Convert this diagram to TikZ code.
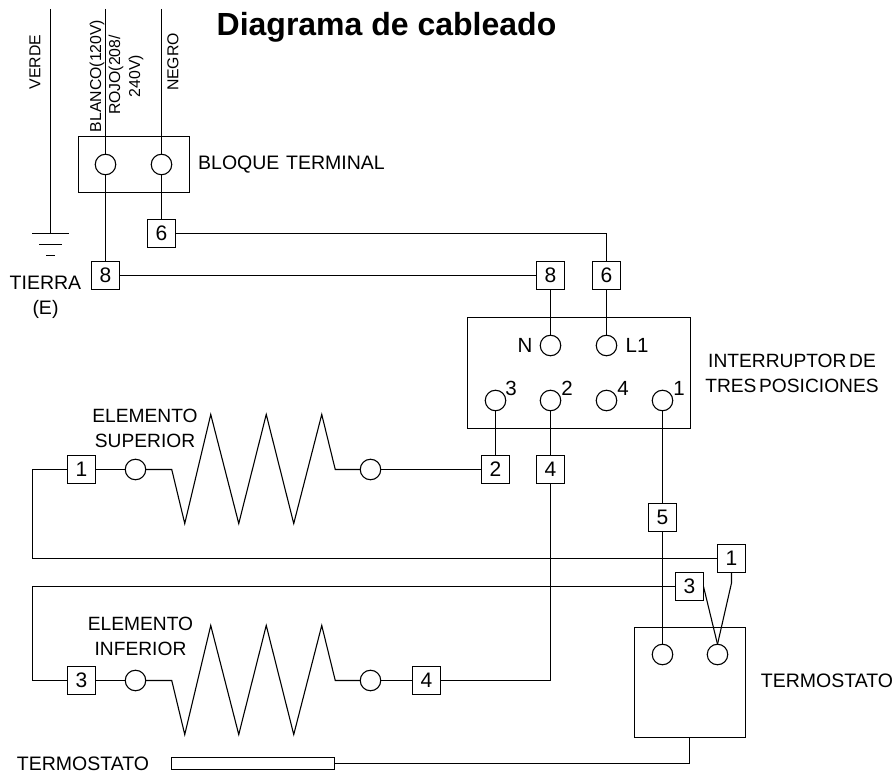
\documentclass[tikz,border=0pt]{standalone}
\usepackage{fontspec}
\setmainfont[WordSpace=0.5]{Liberation Sans}
\newfontfamily\titlefont[WordSpace=1]{Liberation Sans}
\tikzset{
  wire/.style={line width=1.1pt,black,line join=miter},
  term/.style={circle,draw,line width=1.1pt,fill=white,minimum size=20.5pt,inner sep=0pt,outer sep=0pt},
  tag/.style={rectangle,draw,line width=1.1pt,fill=white,minimum size=28pt,inner sep=0pt,outer sep=0pt,font=\fontsize{21}{21}\selectfont},
  panel/.style={rectangle,draw,line width=1.1pt,inner sep=0pt,outer sep=0pt},
  lab/.style={inner sep=0pt,font=\fontsize{19.5}{25.5}\selectfont,align=center},
  labs/.style={inner sep=0pt,font=\fontsize{19.2}{25.5}\selectfont,align=center},
  vlab/.style={inner sep=0pt,rotate=90,font=\fontsize{15.8}{15.8}\selectfont},
  pin/.style={inner sep=0pt,font=\fontsize{20.5}{20.5}\selectfont},
}
\begin{document}
\begin{tikzpicture}[x=1pt,y=-1pt]
\useasboundingbox (0,0) rectangle (895,775);
% panels
\node[panel,minimum width=111pt,minimum height=56pt] (block) at (134,164.5) {};
\node[panel,minimum width=223pt,minimum height=111pt] (switch) at (579,373) {};
\node[panel,minimum width=111pt,minimum height=110pt] (stat) at (690,682.5) {};
\node[panel,minimum width=163pt,minimum height=12pt] (bulb) at (253,763.5) {};
% free ends
\coordinate (topG) at (50.5,9);
\coordinate (topW) at (105.5,9);
\coordinate (topB) at (161.5,9);
\coordinate (gnd) at (50.5,233.5);
\coordinate (g1a) at (32,233.5); \coordinate (g1b) at (69,233.5);
\coordinate (g2a) at (39,244.5); \coordinate (g2b) at (62,244.5);
\coordinate (g3a) at (46,255.5); \coordinate (g3b) at (55,255.5);
\coordinate (cornerUL) at (32.5,469.5);
\coordinate (cornerUB) at (32.5,558.5);
\coordinate (cornerLT) at (32.5,586.5);
\coordinate (cornerLB) at (32.5,680.5);
\coordinate (bendOne) at (731.5,583);
\coordinate (statDrop) at (689.5,737.5);
\coordinate (statCorner) at (689.5,763.5);
% wires
\begin{scope}[wire]
\draw (topG) -- (gnd);
\draw (g1a) -- (g1b);
\draw (g2a) -- (g2b);
\draw (g3a) -- (g3b);
\draw (topW) -- (105.5,164.5);
\draw (topB) -- (161.5,164.5);
\end{scope}
% terminals
\node[term] (bw) at (105.5,164.5) {};
\node[term] (bb) at (161.5,164.5) {};
\node[term] (swN) at (550.5,345.5) {};
\node[term] (swL) at (606.5,345.5) {};
\node[term] (sw3) at (495.5,400.5) {};
\node[term] (sw2) at (550.5,400.5) {};
\node[term] (sw4) at (606.5,400.5) {};
\node[term] (sw1) at (662.5,400.5) {};
\node[term] (upL) at (135.5,469.5) {};
\node[term] (upR) at (370.5,469.5) {};
\node[term] (loL) at (135.5,680.5) {};
\node[term] (loR) at (370.5,680.5) {};
\node[term] (stA) at (662.5,654.5) {};
\node[term] (stB) at (717.5,654.5) {};
% tags
\node[tag] (t6a) at (161.5,233.5) {6};
\node[tag] (t8a) at (105.5,275.5) {8};
\node[tag] (t8b) at (550.5,275.5) {8};
\node[tag] (t6b) at (606.5,275.5) {6};
\node[tag] (t2) at (495.5,469.5) {2};
\node[tag] (t4a) at (550.5,469.5) {4};
\node[tag] (t1a) at (81.5,469.5) {1};
\node[tag] (t5) at (662.5,517.5) {5};
\node[tag] (t1b) at (731.5,558.5) {1};
\node[tag] (t3b) at (689.5,586.5) {3};
\node[tag] (t3a) at (81.5,680.5) {3};
\node[tag] (t4b) at (426.5,680.5) {4};
\begin{scope}[wire]
\draw (bw) -- (t8a);
\draw (bb) -- (t6a);
\draw (t8a) -- (t8b);
\draw (t6a) -| (t6b);
\draw (t8b) -- (swN);
\draw (t6b) -- (swL);
\draw (sw3) -- (t2);
\draw (sw2) -- (t4a);
\draw (sw1) -- (t5);
\draw (t5) -- (stA);
\draw (t4a) |- (t4b);
\draw (upR) -- (t2);
\draw (upL.east) -- ++(26,0) -- ++(13,54) -- ++(26,-109) -- ++(28,109) -- ++(27.5,-109) -- ++(27.5,109) -- ++(28,-109) -- ++(13.5,55) -- (upR.west);
\draw (t1a) -- (upL);
\draw (loL.east) -- ++(26,0) -- ++(13,54) -- ++(26,-109) -- ++(28,109) -- ++(27.5,-109) -- ++(27.5,109) -- ++(28,-109) -- ++(13.5,55) -- (loR.west);
\draw (t3a) -- (loL);
\draw (loR) -- (t4b);
\draw (t1a) -- (cornerUL) -- (cornerUB) -- (t1b);
\draw (t3b) -- (cornerLT) -- (cornerLB) -- (t3a);
\draw (t3b.east) -- (stB.north);
\draw (t1b.south) -- (bendOne) -- (stB.north);
\draw (statDrop) -- (statCorner) -- (bulb.east);
\end{scope}
% labels
\node[inner sep=0pt,font=\titlefont\bfseries\fontsize{32}{32}\selectfont] (title) at (386.5,27) {Diagrama de cableado};
\node[vlab] (lverde) at (35,62) {VERDE};
\node[vlab] (lblanco) at (97,76) {BLANCO(120V)};
\node[vlab] (lrojo) at (116,75) {ROJO(208/};
\node[vlab] (l240) at (136,76) {240V)};
\node[vlab] (lnegro) at (173,62) {NEGRO};
\node[lab,anchor=west] (lbloque) at (198,165) {BLOQUE\hspace{4pt} TERMINAL};
\node[lab] (ltierra) at (45.5,297.5) {TIERRA\\(E)};
\node[pin] (pN) at (525,345) {N};
\node[pin] (pL) at (637,345) {L1};
\node[pin] (p3) at (511,388) {3};
\node[pin] (p2) at (567,388) {2};
\node[pin] (p4) at (623,388) {4};
\node[pin] (p1) at (679,388) {1};
\node[labs] (lint) at (792,373.5) {INTERRUPTOR DE\\TRES POSICIONES};
\node[labs] (lsup) at (145,428.5) {ELEMENTO\\SUPERIOR};
\node[labs] (linf) at (140.5,636.5) {ELEMENTO\\INFERIOR};
\node[lab] (lstat) at (827,681) {TERMOSTATO};
\node[lab] (lbulb) at (83,764) {TERMOSTATO};
\end{tikzpicture}
\end{document}
